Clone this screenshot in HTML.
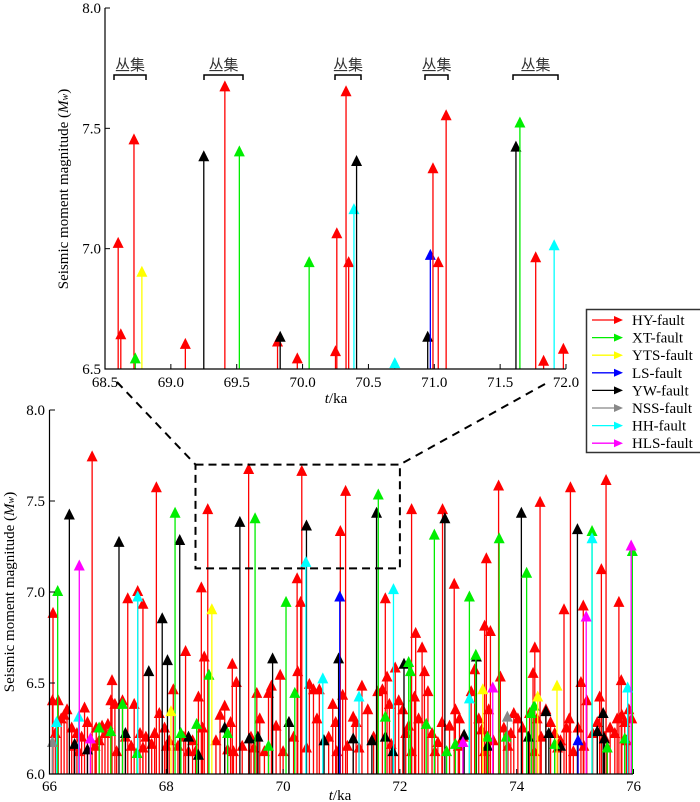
<!DOCTYPE html>
<html><head><meta charset="utf-8"><style>
body{margin:0;background:#fff;}
svg{display:block;font-family:"Liberation Serif","Noto Serif CJK SC",serif;}
</style></head><body>
<svg id="c" width="700" height="802" viewBox="0 0 700 802">
</svg>
<script>
const faultNames=["HY-fault","XT-fault","YTS-fault","LS-fault","YW-fault","NSS-fault","HH-fault","HLS-fault"];
const faultColors=["#ff0000","#00ee00","#ffff00","#0000ff","#000000","#888888","#00ffff","#ff00ff"];
// top (zoomed) chart data
const topTimes=[68.60,68.62,68.72,68.73,68.78,69.11,69.25,69.41,69.52,69.81,69.83,69.96,70.05,70.25,70.26,70.33,70.35,70.39,70.41,70.70,70.95,70.97,70.99,71.03,71.09,71.62,71.65,71.77,71.83,71.91,71.98];
const topMags=[7.02,6.64,7.45,6.54,6.90,6.60,7.38,7.67,7.40,6.61,6.63,6.54,6.94,6.57,7.06,7.65,6.94,7.16,7.36,6.52,6.63,6.97,7.33,6.94,7.55,7.42,7.52,6.96,6.53,7.01,6.58];
const topFaults=[0,0,0,1,2,0,4,0,1,0,4,0,1,0,0,0,0,6,4,6,4,3,0,0,0,4,1,0,0,6,0];
const clusterLabels=["丛集","丛集","丛集","丛集","丛集"];
// bottom (full) chart data, grouped by fault
const redTimes=[66.05,66.1,66.15,66.2,66.25,66.3,66.38,66.42,66.47,66.55,66.6,66.65,66.8,66.85,66.9,66.95,67.0,67.05,67.12,67.25,67.3,67.4,67.45,67.55,67.65,67.75,67.8,67.88,67.97,68.05,68.12,68.2,68.3,68.38,68.45,68.55,68.62,68.65,68.85,68.92,69.0,69.05,69.1,69.13,69.2,69.3,69.45,69.55,69.6,69.68,69.75,69.8,69.88,69.95,70.1,70.18,70.25,70.3,70.45,70.52,70.58,70.62,70.7,70.78,70.85,70.9,71.02,71.1,71.2,71.25,71.35,71.45,71.55,71.62,71.7,71.78,71.82,71.92,71.98,72.05,72.1,72.15,72.25,72.32,72.42,72.48,72.55,72.65,72.72,72.85,72.95,73.02,73.08,73.22,73.28,73.35,73.4,73.52,73.6,73.72,73.78,73.9,73.95,74.02,74.1,74.22,74.28,74.35,74.42,74.5,74.58,74.65,74.75,74.85,74.9,74.97,75.05,75.1,75.2,75.3,75.38,75.42,75.5,75.6,75.68,75.72,75.8,75.85,75.92,75.97,
66.5,66.78,67.15,67.6,68.0,68.5,69.15,69.5,70.0,70.4,70.92,71.3,71.85,72.2,72.6,73.0,73.45,73.85,74.3,74.7,75.15,75.55,75.88,
66.06,66.73,67.07,67.34,67.51,67.6,67.83,68.33,68.6,68.71,69.41,70.24,70.32,70.98,71.07,71.75,72.2,72.27,72.38,72.73,72.93,73.48,73.69,73.45,73.55,74.31,74.4,74.81,74.92,75.14,75.45,75.53,75.75,75.79];
const redMags=[6.40,6.22,6.40,6.30,6.32,6.35,6.25,6.15,6.22,6.20,6.36,6.28,6.25,6.18,6.26,6.22,6.27,6.40,6.38,6.40,6.20,6.15,6.38,6.22,6.20,6.16,6.22,6.33,6.25,6.18,6.46,6.15,6.20,6.12,6.18,6.42,6.25,6.64,6.18,6.32,6.37,6.13,6.28,6.60,6.50,6.15,6.20,6.44,6.30,6.12,6.44,6.48,6.26,6.54,6.28,6.20,6.56,6.94,6.49,6.46,6.30,6.46,6.18,6.20,6.38,6.28,6.43,6.15,6.31,6.28,6.48,6.35,6.20,6.45,6.46,6.53,6.38,6.58,6.40,6.35,6.22,6.26,6.42,6.30,6.56,6.45,6.22,6.17,6.28,6.26,6.35,6.30,6.20,6.45,6.57,6.30,6.24,6.35,6.18,6.53,6.25,6.22,6.33,6.30,6.25,6.33,6.55,6.30,6.20,6.35,6.28,6.22,6.18,6.25,6.30,6.12,6.25,6.50,6.40,6.22,6.28,6.42,6.20,6.25,6.22,6.30,6.32,6.28,6.35,6.30,
6.12,6.15,6.12,6.14,6.15,6.12,6.12,6.14,6.12,6.14,6.12,6.14,6.16,6.12,6.12,6.15,6.12,6.15,6.12,6.14,6.15,6.14,6.18,
6.88,7.74,6.51,6.96,7.00,6.93,7.57,6.67,7.02,7.45,7.67,7.07,7.66,7.33,7.55,6.96,7.45,6.77,6.69,7.45,7.04,7.18,7.58,6.81,6.78,6.69,7.49,6.90,7.57,6.92,7.12,7.61,6.94,6.51];
const blackTimes=[66.43,66.65,67.3,68.38,68.55,69.0,69.42,69.57,70.1,70.7,71.2,71.52,71.75,71.88,72.07,73.1,73.5,74.2,74.5,74.55,74.75,75.38,75.5,75.48,
66.34,67.19,67.93,68.02,67.7,68.23,69.26,69.82,70.4,70.95,71.6,72.77,73.31,74.08,75.04];
const blackMags=[6.16,6.13,6.22,6.20,6.10,6.25,6.19,6.20,6.28,6.18,6.19,6.18,6.20,6.12,6.60,6.21,6.15,6.20,6.34,6.22,6.15,6.23,6.19,6.33,
7.42,7.27,6.85,6.62,6.56,7.28,7.38,6.63,7.36,6.63,7.43,7.40,6.64,7.43,7.34];
const greenTimes=[66.85,67.05,67.25,67.5,68.25,68.52,69.05,69.75,70.2,71.75,72.15,72.18,72.45,72.8,72.95,73.3,73.5,73.82,74.25,74.3,74.65,75.55,75.85,
66.14,68.15,68.73,69.52,70.05,71.63,72.59,73.19,73.7,74.17,75.29,75.98];
const greenMags=[6.25,6.23,6.38,6.11,6.22,6.27,6.22,6.15,6.44,6.31,6.61,6.56,6.27,6.12,6.16,6.65,6.20,6.20,6.33,6.37,6.16,6.14,6.19,
7.00,7.43,6.54,7.40,6.94,7.53,7.31,6.97,7.29,7.10,7.33,7.22];
const cyanTimes=[66.12,66.5,67.51,70.39,70.68,71.3,71.89,73.19,75.29,75.9];
const cyanMags=[6.28,6.31,6.97,7.16,6.52,6.42,7.01,6.41,7.29,6.47];
const magentaTimes=[66.51,66.7,73.08,73.59,75.19,75.96];
const magentaMags=[7.14,6.19,6.17,6.47,6.86,7.25];
const grayTimes=[66.05,73.84];
const grayMags=[6.17,6.31];
const yellowTimes=[68.08,68.78,73.42,74.36,74.69];
const yellowMags=[6.34,6.90,6.46,6.42,6.48];
const blueTimes=[70.97,75.05];
const blueMags=[6.97,6.18];
const NS="http://www.w3.org/2000/svg";
const svg=document.getElementById('c');
function mk(tag,attrs,parent){const e=document.createElementNS(NS,tag);for(const k in attrs)e.setAttribute(k,attrs[k]);(parent||svg).appendChild(e);return e;}
const topX=t=>105+(t-68.5)/3.5*461, topY=m=>369-(m-6.5)/1.5*361;
const botX=t=>49.5+(t-66)/10*584, botY=m=>774-(m-6)/2*364;
function drawEvents(times,mags,faults,xf,yf,base,name){
  const g=mk('g',{});
  
  
  for(let i=0;i<times.length;i++){
    const x=xf(times[i]),y=yf(mags[i]),col=faultColors[faults[i]];
    const ln=mk('line',{x1:x,y1:yf(base),x2:x,y2:y+3,stroke:col,'stroke-width':1.3},g);
    
    
    const tri=mk('polygon',{points:`${x},${y-7} ${x-5.5},${y+4} ${x+5.5},${y+4}`,fill:col},g);
    
    
  }
}
function axisText(x,y,txt,anchor,size,name){const t=mk('text',{x:x,y:y,'text-anchor':anchor,'font-size':size,fill:'#000'});t.textContent=txt;return t;}
// ---- top chart
drawEvents(topTimes,topMags,topFaults,topX,topY,6.5,'top-events');
let a=mk('path',{d:`M105,8 V369 H566`,stroke:'#000',fill:'none','stroke-width':1.2});

[6.5,7.0,7.5,8.0].forEach(v=>{mk('line',{x1:105,x2:110,y1:topY(v),y2:topY(v),stroke:'#000'});axisText(101,topY(v)+5,v.toFixed(1),'end',15,'top-y-tick-label');});
[68.5,69,69.5,70,70.5,71,71.5,72].forEach(v=>{mk('line',{x1:topX(v),x2:topX(v),y1:369,y2:364,stroke:'#000'});axisText(topX(v),387,v.toFixed(1),'middle',15,'top-x-tick-label');});
let tt=mk('text',{x:336,y:403,'text-anchor':'middle','font-size':15});tt.innerHTML='<tspan font-style="italic">t</tspan>/ka';
let yt=mk('text',{x:0,y:0,'text-anchor':'middle','font-size':15,transform:'translate(68,189) rotate(-90)'});yt.innerHTML='Seismic moment magnitude (<tspan font-style="italic">M</tspan><tspan font-size="10" font-style="italic">w</tspan>)';
const brackets=[[114,146],[204,243],[335,361],[425,448],[513,558]];
brackets.forEach((b,i)=>{
  const p=mk('path',{d:`M${b[0]},80 V75 H${b[1]} V80`,stroke:'#000',fill:'none','stroke-width':1.5});
  
  const t=mk('text',{x:(b[0]+b[1])/2,y:70,'text-anchor':'middle','font-size':15,'font-family':'"Noto Sans CJK SC",sans-serif',fill:'#333'});t.textContent=clusterLabels[i];
  
});
// ---- bottom chart
drawEvents(redTimes,redMags,redTimes.map(()=>0),botX,botY,6.0,'bottom-events-hy');
drawEvents(blackTimes,blackMags,blackTimes.map(()=>4),botX,botY,6.0,'bottom-events-yw');
drawEvents(greenTimes,greenMags,greenTimes.map(()=>1),botX,botY,6.0,'bottom-events-xt');
drawEvents(cyanTimes,cyanMags,cyanTimes.map(()=>6),botX,botY,6.0,'bottom-events-hh');
drawEvents(magentaTimes,magentaMags,magentaTimes.map(()=>7),botX,botY,6.0,'bottom-events-hls');
drawEvents(grayTimes,grayMags,grayTimes.map(()=>5),botX,botY,6.0,'bottom-events-nss');
drawEvents(yellowTimes,yellowMags,yellowTimes.map(()=>2),botX,botY,6.0,'bottom-events-yts');
drawEvents(blueTimes,blueMags,blueTimes.map(()=>3),botX,botY,6.0,'bottom-events-ls');
a=mk('path',{d:`M49.5,410 V774 H633`,stroke:'#000',fill:'none','stroke-width':1.2});

[6.0,6.5,7.0,7.5,8.0].forEach(v=>{mk('line',{x1:49.5,x2:55,y1:botY(v),y2:botY(v),stroke:'#000'});axisText(45,botY(v)+5,v.toFixed(1),'end',15,'bottom-y-tick-label');});
[66,68,70,72,74,76].forEach(v=>{mk('line',{x1:botX(v),x2:botX(v),y1:774,y2:769,stroke:'#000'});axisText(botX(v),791,String(v),'middle',15,'bottom-x-tick-label');});
tt=mk('text',{x:340,y:800,'text-anchor':'middle','font-size':15});tt.innerHTML='<tspan font-style="italic">t</tspan>/ka';
yt=mk('text',{x:0,y:0,'text-anchor':'middle','font-size':15,transform:'translate(14,592) rotate(-90)'});yt.innerHTML='Seismic moment magnitude (<tspan font-style="italic">M</tspan><tspan font-size="10" font-style="italic">w</tspan>)';
// zoom box and connectors
const zb=mk('rect',{x:botX(68.5),y:botY(7.7),width:botX(72)-botX(68.5),height:botY(7.13)-botY(7.7),fill:'none',stroke:'#000','stroke-width':2,'stroke-dasharray':'8,5'});

let cl=mk('line',{x1:117,y1:382,x2:botX(68.5),y2:botY(7.7),stroke:'#000','stroke-width':2,'stroke-dasharray':'8,6'});

cl=mk('line',{x1:545,y1:384,x2:botX(72),y2:botY(7.7),stroke:'#000','stroke-width':2,'stroke-dasharray':'8,6'});

// legend
const lg=mk('g',{});
mk('rect',{x:586.5,y:309.5,width:120,height:143,fill:'#fff',stroke:'#333','stroke-width':1.5},lg);
faultNames.forEach((n,i)=>{
  const y=320+i*17.6;
  const e=mk('g',{},lg);
  mk('line',{x1:592,x2:616,y1:y,y2:y,stroke:faultColors[i],'stroke-width':1.3},e);
  mk('polygon',{points:`${623},${y} ${614},${y-4} ${614},${y+4}`,fill:faultColors[i]},e);
  const t=mk('text',{x:632,y:y+5,'font-size':15},e);t.textContent=n;
});
</script>
</body></html>
